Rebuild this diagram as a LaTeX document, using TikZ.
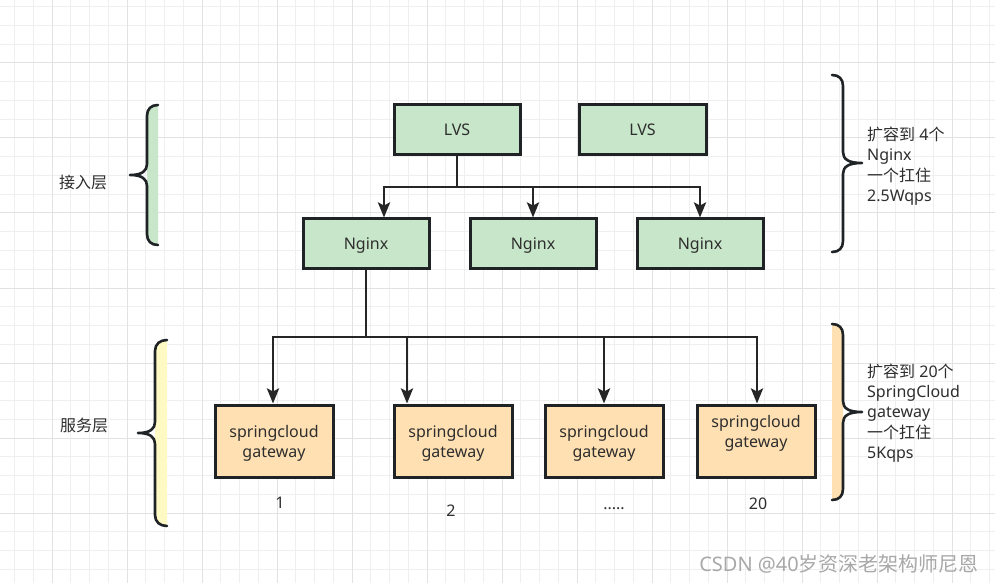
\documentclass[tikz,border=0pt]{standalone}
\usepackage{fontspec}
\setmainfont{Noto Sans}
\newfontfamily\cjk{Noto Sans CJK SC}
\usetikzlibrary{arrows.meta}
\definecolor{gfill}{HTML}{C8E6C9}
\definecolor{ofill}{HTML}{FFE0B2}
\definecolor{yfill}{HTML}{FFF9C4}
\definecolor{strokec}{HTML}{1F2326}
\definecolor{connc}{HTML}{262626}
\definecolor{textc}{HTML}{2E2E2E}
\definecolor{gridminor}{HTML}{EFEFEF}
\definecolor{gridmajor}{HTML}{E2E2E2}
\definecolor{wmark}{HTML}{A8A8A8}
\begin{document}
\begin{tikzpicture}[x=1bp,y=-1bp,
  box/.style={draw=strokec, line width=3bp, text=textc, font=\fontsize{16bp}{20bp}\selectfont, align=center, inner sep=0pt, text depth=0pt},
  gbox/.style={box, fill=gfill, minimum width=126bp, minimum height=50bp},
  obox/.style={box, fill=ofill, minimum width=118bp, minimum height=72bp},
  gwtext/.style={text=textc, font=\fontsize{16bp}{20bp}\selectfont, align=center, inner sep=0pt, text depth=0pt},
  conn/.style={draw=connc, line width=2.8bp, -{Stealth[length=15bp,width=12bp,inset=3bp]}},
  bus/.style={draw=connc, line width=2.8bp},
  brace/.style={draw=strokec, line width=2.6bp, line cap=round, line join=round},
  lbl/.style={text=textc, font=\fontsize{16bp}{20.3bp}\selectfont, inner sep=0pt},
  numlbl/.style={text=textc, font=\fontsize{16bp}{20bp}\selectfont, inner sep=0pt, anchor=base}]
\useasboundingbox (0,0) rectangle (995,583);
\fill[white] (0,0) rectangle (995,583);
% grid
\foreach \i in {0,...,52} {\draw[gridminor, line width=1bp] (14.5+\i*18.75,0) -- (14.5+\i*18.75,583);}
\foreach \i in {0,...,30} {\draw[gridminor, line width=1bp] (0,6.75+\i*18.75) -- (995,6.75+\i*18.75);}
\foreach \i in {0,...,12} {\draw[gridmajor, line width=1bp] (52+\i*75,0) -- (52+\i*75,583);}
\foreach \i in {0,...,6} {\draw[gridmajor, line width=1bp] (0,63+\i*75) -- (995,63+\i*75);}

% boxes
\node[gbox] (lvs1) at (457,130) {LVS};
\node[gbox, minimum width=127bp] (lvs2) at (642.5,130) {LVS};
\node[gbox, minimum height=49bp] (ng1) at (366,243.5) {Nginx};
\node[gbox, minimum height=49bp] (ng2) at (533,243.5) {Nginx};
\node[gbox, minimum height=49bp] (ng3) at (700,243.5) {Nginx};
\node[obox] (gw1) at (274,441) {springcloud\\gateway};
\node[obox] (gw2) at (453,441) {springcloud\\gateway};
\node[obox] (gw3) at (604,441) {springcloud\\gateway};
\node[obox, label={[gwtext, yshift=10bp]center:{springcloud\\gateway}}] (gw4) at (756,441) {};

% connectors
\coordinate (j1) at (457,187);
\draw[bus] (lvs1.south) -- (j1);
\draw[conn] (j1) -| ([xshift=18bp]ng1.north);
\draw[conn] (j1) -| (ng2.north);
\draw[conn] (j1) -| (ng3.north);
\coordinate (j2) at (366,337);
\draw[bus] (ng1.south) -- (j2);
\draw[conn] (j2) -| ([xshift=-1bp]gw1.north);
\draw[conn] (j2) -| ([xshift=-46bp]gw2.north);
\draw[conn] (j2) -| (gw3.north);
\draw[conn] (j2) -| ([xshift=1bp]gw4.north);

% numbers
\node[numlbl] (n1) at (280,508) {1};
\node[numlbl] (n2) at (451,516) {2};
\node[numlbl] (n3) at (614,509) {.....};
\node[numlbl] (n4) at (758,509) {20};

% left braces
\fill[gfill] (158,105) .. controls (151,105) and (147,109) .. (147,116) -- (147,234) .. controls (147,241) and (151,245) .. (158,245) -- cycle;
\draw[brace] (158,105) .. controls (151,105) and (147,109) .. (147,116) -- (147,164) .. controls (147,171) and (142,175) .. (130,175) .. controls (142,175) and (147,179) .. (147,186) -- (147,234) .. controls (147,241) and (151,245) .. (158,245);
\fill[yfill] (167,340) .. controls (160,340) and (155,344) .. (155,351) -- (155,515) .. controls (155,522) and (160,526) .. (167,526) -- cycle;
\draw[brace] (167,340) .. controls (160,340) and (155,344) .. (155,351) -- (155,422) .. controls (155,429) and (150,433) .. (138,433) .. controls (150,433) and (155,437) .. (155,444) -- (155,515) .. controls (155,522) and (160,526) .. (167,526);
\node[lbl] (l1) at (83,183) {\cjk 接入层};
\node[lbl] (l2) at (84,425) {\cjk 服务层};

% right braces
\draw[brace] (832,75) .. controls (839,75) and (843,79) .. (843,86) -- (843,152) .. controls (843,159) and (848,163) .. (862,163) .. controls (848,163) and (843,167) .. (843,174) -- (843,241) .. controls (843,248) and (839,252) .. (832,252);
\fill[ofill] (832,324) .. controls (839,324) and (843,328) .. (843,335) -- (843,489) .. controls (843,496) and (839,500) .. (832,500) -- cycle;
\draw[brace] (832,324) .. controls (839,324) and (843,328) .. (843,335) -- (843,401) .. controls (843,408) and (848,412) .. (862,412) .. controls (848,412) and (843,416) .. (843,423) -- (843,489) .. controls (843,496) and (839,500) .. (832,500);
\node[lbl, anchor=west, align=left] (r1) at (867,166) {{\cjk 扩容到} 4{\cjk 个}\\Nginx\\{\cjk 一个扛住}\\2.5Wqps};
\node[lbl, anchor=west, align=left] (r2) at (867,413) {{\cjk 扩容到} 20{\cjk 个}\\SpringCloud\\gateway\\{\cjk 一个扛住}\\5Kqps};

% watermark
\node[text=wmark, font=\fontsize{20bp}{24bp}\selectfont, inner sep=0pt, anchor=east] (wm) at (979,564) {CSDN @40{\cjk 岁资深老架构师尼恩}};
\end{tikzpicture}
\end{document}
